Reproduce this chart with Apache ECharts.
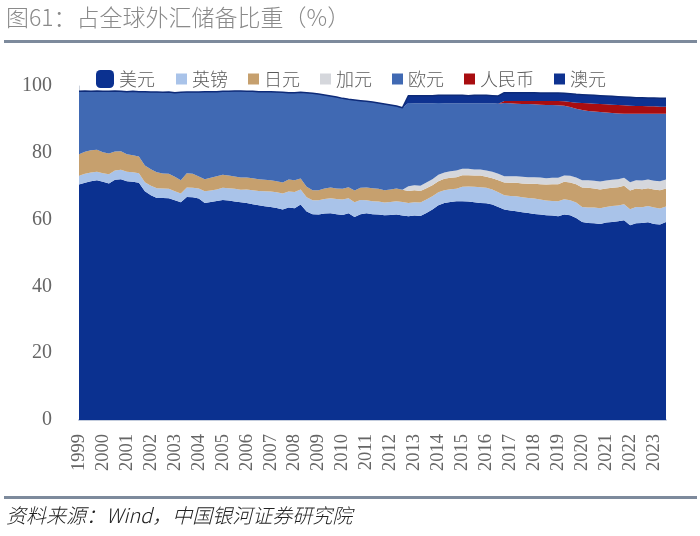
<!DOCTYPE html>
<html><head><meta charset="utf-8">
<script src="https://cdn.jsdelivr.net/npm/echarts@6/dist/echarts.min.js"></script>
<style>html,body{margin:0;padding:0;background:#fff}#c{width:700px;height:536px}</style>
</head><body><div id="c"></div>
<script>
// Quarterly data 1999Q1 - 2023Q3 (share of allocated FX reserves, %)
var years = ['1999','2000','2001','2002','2003','2004','2005','2006','2007','2008','2009','2010','2011','2012','2013','2014','2015','2016','2017','2018','2019','2020','2021','2022','2023'];
var quarterCount = 99;

var usd = [70.5,71.0,71.5,71.8, 71.3,70.8,71.9,72.1, 71.5,71.3,71.0,68.5, 67.3,66.5,66.5,66.4, 65.8,65.2,66.8,66.7,
  66.3,65.0,65.3,65.6, 65.9,65.7,65.4,65.2, 65.0,64.6,64.3,64.0, 63.8,63.5,63.0,63.6, 63.4,64.5,62.4,61.6,
  61.5,61.8,61.9,61.6, 61.4,61.9,60.8,61.6, 61.9,61.6,61.5,61.3, 61.4,61.5,61.2,61.0, 61.2,61.1,62.0,63.0,
  64.3,65.0,65.3,65.5, 65.5,65.4,65.2,65.0, 64.9,64.5,63.8,63.0, 62.7,62.5,62.2,62.0, 61.7,61.5,61.3,61.2,
  61.0,61.5,61.3,60.5, 59.3,59.0,58.9,58.7, 59.1,59.3,59.5,59.8, 58.3,58.9,59.0,59.2, 58.7,58.5,59.3];
var gbp = [2.6,2.7,2.6,2.5, 2.6,2.8,2.8,2.8, 2.8,2.9,2.9,2.7, 2.8,2.9,2.8,2.8, 2.7,2.6,2.8,2.8,
  3.0,3.5,3.4,3.4, 3.6,3.7,3.8,3.7, 4.0,4.2,4.3,4.5, 4.6,4.7,4.8,4.8, 4.9,4.5,4.3,4.2,
  4.3,4.4,4.5,4.6, 4.6,4.5,4.4,4.3, 3.9,3.9,3.9,3.8, 3.9,4.0,4.1,4.0, 4.0,4.0,4.0,4.0,
  3.9,3.8,3.8,3.7, 4.3,4.5,4.6,4.7, 4.6,4.5,4.4,4.3, 4.4,4.5,4.5,4.5, 4.6,4.5,4.4,4.4,
  4.5,4.6,4.5,4.6, 4.5,4.6,4.7,4.7, 4.7,4.8,4.7,4.8, 4.8,4.9,4.7,4.9, 4.9,4.8,4.6];
var jpy = [6.5,6.6,6.7,6.6, 6.3,6.2,5.7,5.6, 5.3,5.1,5.0,5.0, 5.0,4.8,4.5,4.5, 4.3,4.0,4.3,4.2,
  3.6,3.6,3.8,4.0, 3.9,3.8,3.7,3.7, 3.6,3.6,3.5,3.4, 3.4,3.3,3.3,3.6, 3.5,3.3,3.1,3.0,
  3.0,3.1,3.2,3.1, 3.2,3.3,3.5,3.6, 3.8,3.9,3.8,3.7, 3.7,3.8,3.6,3.6, 3.6,3.5,3.4,3.3,
  3.3,3.4,3.4,3.5, 3.5,3.4,3.4,3.5, 3.3,3.4,3.6,3.8, 3.9,4.0,4.1,4.2, 4.4,4.6,4.8,5.0,
  5.1,5.2,5.3,5.5, 5.8,5.9,5.7,5.6, 5.5,5.4,5.5,5.5, 5.6,5.5,5.4,5.3, 5.4,5.5,5.4];
var cad = [0,0,0,0, 0,0,0,0, 0,0,0,0, 0,0,0,0, 0,0,0,0,
  0,0,0,0, 0,0,0,0, 0,0,0,0, 0,0,0,0, 0,0,0,0,
  0,0,0,0, 0,0,0,0, 0,0,0,0, 0,0,0,1.4, 1.5,1.5,1.7,1.8,
  1.9,1.9,2.0,2.0, 1.9,1.9,1.8,1.8, 1.9,1.9,1.9,1.9, 2.0,2.0,2.0,2.0, 2.0,2.0,1.9,1.9,
  1.9,1.9,2.0,2.0, 2.2,2.3,2.3,2.4, 2.4,2.4,2.4,2.4, 2.5,2.5,2.6,2.6, 2.6,2.7,2.7];
var eur = [18.8,18.2,17.6,17.6, 18.2,18.6,18.1,17.9, 18.7,19.1,19.4,22.1, 23.1,24.0,24.3,24.5, 25.2,26.3,24.3,24.5,
  25.3,26.2,25.8,25.3, 25.0,25.2,25.6,25.9, 25.8,26.0,26.2,26.4, 26.5,26.7,27.0,26.0, 26.2,25.8,28.2,29.0,
  28.8,28.0,27.4,27.4, 27.1,26.3,27.1,26.1, 25.8,25.8,25.7,25.8, 25.3,24.7,24.6,24.9, 24.5,24.7,23.7,22.7,
  21.5,20.7,20.3,20.1, 19.6,19.6,19.8,19.8, 20.1,20.5,21.0,21.9, 21.8,21.7,21.8,21.9, 21.8,21.8,21.9,21.8,
  21.7,20.9,20.6,20.6, 21.0,20.7,20.8,20.8, 20.4,20.0,19.7,19.2, 20.5,19.9,20.0,19.7, 20.1,20.2,19.7];
var cny = [0,0,0,0, 0,0,0,0, 0,0,0,0, 0,0,0,0, 0,0,0,0,
  0,0,0,0, 0,0,0,0, 0,0,0,0, 0,0,0,0, 0,0,0,0,
  0,0,0,0, 0,0,0,0, 0,0,0,0, 0,0,0,0, 0,0,0,0,
  0,0,0,0, 0,0,0,0, 0,0,0,0.6, 0.7,0.8,0.9,0.9, 1.0,1.1,1.2,1.2,
  1.3,1.3,1.5,1.8, 2.1,2.3,2.3,2.4, 2.4,2.5,2.5,2.5, 2.4,2.3,2.3,2.2, 2.2,2.1,2.1];
var aud = [0,0,0,0, 0,0,0,0, 0,0,0,0, 0,0,0,0, 0,0,0,0,
  0,0,0,0, 0,0,0,0, 0,0,0,0, 0,0,0,0, 0,0,0,0,
  0,0,0,0, 0,0,0,0, 0,0,0,0, 0,0,0,2.2, 2.3,2.3,2.3,2.3,
  2.3,2.4,2.4,2.4, 2.4,2.3,2.4,2.4, 2.4,2.3,2.3,2.5, 2.5,2.5,2.5,2.5, 2.5,2.4,2.4,2.4,
  2.4,2.4,2.5,2.5, 2.5,2.5,2.5,2.5, 2.5,2.5,2.5,2.5, 2.5,2.5,2.5,2.5, 2.5,2.5,2.5];

var yTicks = [0, 20, 40, 60, 80, 100];

var categories = [];
for (var q = 0; q < quarterCount; q++) {
  categories.push(years[Math.floor(q / 4)] + 'Q' + (q % 4 + 1));
}

var seriesDefs = [
  {name: '美元', data: usd, color: '#0B3190'},
  {name: '英镑', data: gbp, color: '#A9C3E9'},
  {name: '日元', data: jpy, color: '#C6A06E'},
  {name: '加元', data: cad, color: '#D5D7DC'},
  {name: '欧元', data: eur, color: '#4069B3'},
  {name: '人民币', data: cny, color: '#A80D10'},
  {name: '澳元', data: aud, color: '#0E3290'}
];

var legendText = {fontFamily: 'Noto Sans CJK SC', fontWeight: 300, fontSize: 18, color: '#5A5A5A'};

var chart = echarts.init(document.getElementById('c'), null, {renderer: 'canvas'});
var option = {
  animation: false,
  backgroundColor: '#ffffff',
  grid: {left: 79, right: 34, top: 86, bottom: 116, containLabel: false},
  legend: [
    {
      top: 70, left: 96, padding: 0, itemWidth: 18, itemHeight: 18, itemGap: 20, icon: 'roundRect',
      textStyle: legendText, data: ['美元']
    },
    {
      top: 70, left: 176, padding: 0, itemWidth: 11, itemHeight: 11, itemGap: 20, icon: 'rect',
      textStyle: legendText, data: ['英镑', '日元', '加元', '欧元', '人民币', '澳元']
    }
  ],
  xAxis: {
    type: 'category', data: categories, boundaryGap: false,
    axisLine: {lineStyle: {color: '#C3CCDD', width: 2}},
    axisTick: {show: false},
    axisLabel: {
      interval: 3, rotate: 90, margin: 14,
      fontFamily: 'Liberation Serif', fontSize: 18.5, color: '#666666',
      formatter: function (v) { return v.slice(0, 4); }
    }
  },
  yAxis: {
    type: 'value', min: 0, max: 100, interval: 20,
    axisLine: {show: true, lineStyle: {color: '#CDD3DD', width: 1}},
    axisTick: {show: false},
    splitLine: {show: false},
    axisLabel: {margin: 27, fontFamily: 'Liberation Serif', fontSize: 20, color: '#666666'}
  },
  series: seriesDefs.map(function (s, k) {
    var last = k === seriesDefs.length - 1;
    return {
      name: s.name, type: 'line', stack: 'total', data: s.data,
      symbol: 'none', smooth: false,
      itemStyle: {color: s.color},
      lineStyle: last ? {color: '#0D2A78', width: 1.5} : {width: 0},
      areaStyle: {color: s.color, opacity: 1}
    };
  }),
  graphic: [
    {type: 'text', left: 6, top: 6, style: {text: '图61：占全球外汇储备比重（%）', font: '300 23px "Noto Sans CJK SC"', fill: '#8A8A8A'}},
    {type: 'rect', shape: {x: 4, y: 40, width: 693, height: 3}, style: {fill: '#7D8A9C'}},
    {type: 'rect', shape: {x: 4, y: 496, width: 693, height: 3}, style: {fill: '#7D8A9C'}},
    {type: 'text', left: 6, top: 505, style: {text: '资料来源：Wind，中国银河证券研究院', font: 'italic 300 20px "Noto Sans CJK SC"', fill: '#222222'}}
  ]
};
chart.setOption(option);
</script>
</body></html>
